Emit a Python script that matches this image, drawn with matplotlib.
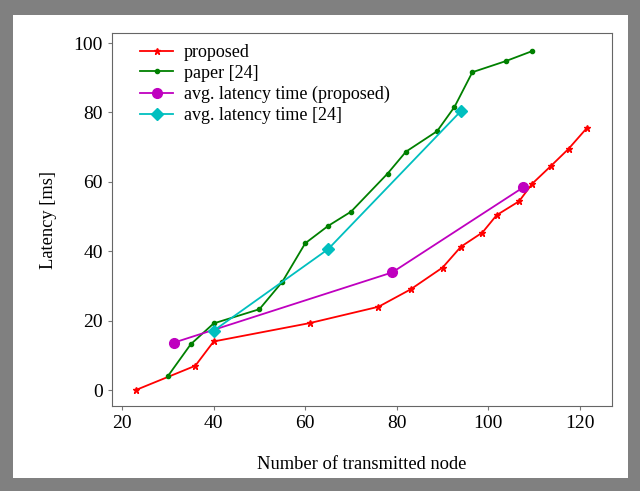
import matplotlib.pyplot as plt
from matplotlib.patches import Rectangle

# proposed scheme
prop_x = [23, 36, 40, 61, 76, 83, 90, 94, 98.7, 101.8, 106.7, 109.6, 113.6, 117.5, 121.5]
prop_y = [0, 7, 14, 19.3, 24, 29, 35.3, 41.3, 45.4, 50.4, 54.4, 59.5, 64.5, 69.5, 75.5]

# paper [24]
paper_x = [30, 35, 40, 50, 55, 60, 65, 70, 78, 82, 88.8, 92.6, 96.5, 103.8, 109.6]
paper_y = [4, 13.2, 19.2, 23.3, 31.2, 42.3, 47.3, 51.4, 62.4, 68.7, 74.6, 81.6, 91.6, 94.8, 97.7]

# average latency
avg_prop_x = [31.4, 79, 107.6]
avg_prop_y = [13.7, 33.9, 58.4]
avg_ref_x = [40, 65, 94]
avg_ref_y = [17.1, 40.6, 80.4]

plt.rcParams['font.family'] = ['Liberation Serif', 'DejaVu Serif']

fig = plt.figure(figsize=(6.4, 4.91), dpi=100)
# grey frame round the picture
fig.patches.append(Rectangle((0, 0), 1, 1, transform=fig.transFigure,
                             facecolor='#808080', edgecolor='none', zorder=-2))
fig.patches.append(Rectangle((13/640, 13/491), 1 - 25/640, 1 - 28/491,
                             transform=fig.transFigure, facecolor='white',
                             edgecolor='none', zorder=-1))

ax = fig.add_axes([112/640, 1 - 406/491, 500/640, 373/491])
ax.plot(prop_x, prop_y, color='r', marker='*', markersize=5, lw=1.3, label='proposed')
ax.plot(paper_x, paper_y, color='g', marker='.', markersize=6, lw=1.3, label='paper [24]')
ax.plot(avg_prop_x, avg_prop_y, color='m', marker='o', markersize=7, lw=1.3,
        label='avg. latency time (proposed)')
ax.plot(avg_ref_x, avg_ref_y, color='c', marker='D', markersize=6, lw=1.3,
        label='avg. latency time [24]')

ax.set_xlim(17.8, 127)
ax.set_ylim(-4.6, 102.9)
ax.set_xticks([20, 40, 60, 80, 100, 120])
ax.set_yticks([0, 20, 40, 60, 80, 100])
ax.tick_params(labelsize=14, color='#777777', length=3)
for s in ax.spines.values():
    s.set_color('#666666')

ax.set_xlabel('Number of transmitted node', fontsize=13.3, labelpad=17)
ax.set_ylabel('Latency [ms]', fontsize=13.3, labelpad=12)

ax.legend(loc='upper left', frameon=False, fontsize=13, handlelength=1.8,
          handletextpad=0.6, labelspacing=0.22, borderaxespad=0.2,
          bbox_to_anchor=(0.035, 1.0))

fig.savefig('out.png', dpi=100)
